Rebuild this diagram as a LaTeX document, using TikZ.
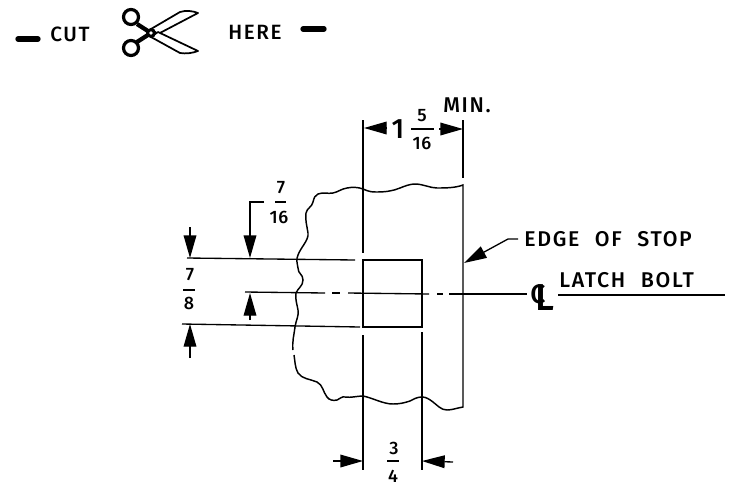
\documentclass[tikz,border=0pt]{standalone}
\usepackage{fontspec}
\setmainfont{Liberation Sans}
\newfontfamily\leroyfont[UprightFont=* Medium,LetterSpace=8,WordSpace=2.2]{Fira Sans}
\newfontfamily\figurefont[UprightFont=* Medium,LetterSpace=4]{Fira Sans}
\usetikzlibrary{arrows.meta}
\tikzset{
  partline/.style={line width=1.1pt},
  dimline/.style={line width=1pt},
  dimtip/.style={dimline,-{Stealth[inset=0pt,length=17pt,width=9.5pt]}},
  cutdash/.style={line width=4pt,line cap=round},
  bladeshape/.style={line width=1.3pt,fill=white,line join=round},
  lettering/.style={inner sep=0pt,font=\leroyfont\fontsize{16}{18}\selectfont},
  figure/.style={inner sep=0pt,font=\figurefont\fontsize{13.5}{15}\selectfont},
  smalllabel/.style={inner sep=0pt,font=\leroyfont\fontsize{15.5}{17}\selectfont},
}
\begin{document}
\begin{tikzpicture}[x=0.75pt,y=0.75pt,yscale=-1,xscale=1]
\useasboundingbox (0,0) rectangle (737,493);

%Cut line
\draw [cutdash] (18,39) -- (38,39);
\draw [cutdash] (303,29) -- (324,29);
% Text Node
\draw (50,34) node [anchor=west,smalllabel] (cut) {CUT};
% Text Node
\draw (228,32) node [anchor=west,smalllabel] (here) {HERE};

%Scissors
\draw [line width=2.4pt] (131,17) circle (7.5);
\draw [line width=2.4pt] (131,48) circle (7.5);
\draw [line width=3.2pt] (137,24) -- (151,33) -- (137,42);
\draw [bladeshape] (151,29) -- (180,12) .. controls (186,10) and (193,11) .. (198,13) -- (158,34) -- cycle;
\draw [bladeshape] (151,37) -- (180,53) .. controls (186,54) and (193,53) .. (198,51) -- (158,32) -- cycle;
\fill (151,33) circle (5);
\fill [white] (151,33) circle (1.8);

%Break outline
\draw [partline] (363,189) .. controls (370,192) and (372,192) .. (377,192) .. controls (385,192) and (393,191) .. (400,188) .. controls (405,186) and (410,184) .. (415,184) .. controls (423,184) and (430,188) .. (437,188) .. controls (445,188) and (455,188) .. (463,185) -- (463,407) .. controls (457,408) and (452,410) .. (447,410) .. controls (441,410) and (437,405) .. (433,402) .. controls (429,399) and (426,397) .. (422,397) .. controls (417,397) and (414,399) .. (410,401) .. controls (404,403) and (399,404) .. (393,404) .. controls (383,404) and (373,398) .. (363,396) .. controls (357,396) and (351,398) .. (345,397) .. controls (342,396) and (340,399) .. (337,400) .. controls (333,401) and (329,400) .. (327,397) .. controls (323,392) and (323,385) .. (317,382) .. controls (310,379) and (302,379) .. (298,373) .. controls (295,368) and (295,361) .. (294,355);
\draw [partline] (293,350) .. controls (292,342) and (294,335) .. (295,327) .. controls (296,320) and (299,316) .. (298,310) .. controls (297,304) and (295,299) .. (296,293) .. controls (298,288) and (303,286) .. (303,280) .. controls (303,274) and (298,274) .. (298,268) .. controls (297,262) and (296,260) .. (298,255) .. controls (301,247) and (309,240) .. (308,233) .. controls (307,226) and (305,220) .. (306,213) .. controls (307,208) and (312,207) .. (313,202) .. controls (314,198) and (315,195) .. (318,194) .. controls (323,192) and (328,194) .. (333,193) .. controls (338,192) and (341,189) .. (347,188) .. controls (352,187) and (358,187) .. (363,189);

%Latch cut out
\draw [partline] (363,120) -- (363,253);
\draw [partline] (463,120) -- (463,178);
\draw [partline] (363,260) -- (422,260) -- (422,327) -- (363,327) -- cycle;
\draw [partline] (363,335) -- (363,470);
\draw [partline] (422,332) -- (422,470);

%Straight Lines
\draw [dimline] (187,258) -- (355,260);
\draw [dimline] (182,324) -- (360,327);
\draw [dimline] (245,292) -- (325,293);
\draw [dimline] (332,293) -- (340,293);
\draw [dimline] (348,293) -- (429,294);
\draw [dimline] (437,294) -- (443,294);
\draw [dimline] (449,294) -- (527,294);
\draw [dimline] (558,295) -- (725,295);

%Dimension arrows
\draw [dimtip] (190,227) -- (190,258);
\draw [dimtip] (190,358) -- (190,324);
\draw [dimtip] (264,202) -- (250,202) -- (250,258);
\draw [dimtip] (250,320) -- (250,293);
\draw [dimtip] (387,128) -- (364,128);
\draw [dimtip] (439,129) -- (463,129);
\draw [dimtip] (333,461) -- (363,461);
\draw [dimtip] (453,462) -- (422,461);
\draw [dimtip] (518,239) -- (508,239) -- (464,263);

%Fraction bars
\draw [dimline] (411,129) -- (434,129);
\draw [dimline] (275,202) -- (286,202);
\draw [dimline] (183,290) -- (195,290);
\draw [dimline] (387,461) -- (399,461);

% Text Node
\draw (398,129) node [inner sep=0pt,font=\figurefont\fontsize{21}{23}\selectfont] (whole) {1};
% Text Node
\draw (422,116) node [figure] (upper) {5};
% Text Node
\draw (422,143) node [figure] (lower) {16};
% Text Node
\draw (281,188) node [figure] (sevena) {7};
% Text Node
\draw (279,217) node [figure] (sixteen) {16};
% Text Node
\draw (190,275) node [figure] (sevenb) {7};
% Text Node
\draw (189,303) node [figure] (eight) {8};
% Text Node
\draw (394,448) node [figure] (three) {3};
% Text Node
\draw (393,476) node [figure] (four) {4};
% Text Node
\draw (443,105) node [anchor=west,lettering] (minlabel) {MIN.};
% Text Node
\draw (524,239) node [anchor=west,lettering] (edgelabel) {EDGE OF STOP};
% Text Node
\draw (559,280) node [anchor=west,lettering] (boltlabel) {LATCH BOLT};
% Text Node
\draw (538,294) node [inner sep=0pt,font=\figurefont\fontsize{20}{22}\selectfont] (centerc) {C};
% Text Node
\draw (545,298) node [inner sep=0pt,font=\figurefont\fontsize{28}{30}\selectfont] (centerl) {L};
\end{tikzpicture}
\end{document}
